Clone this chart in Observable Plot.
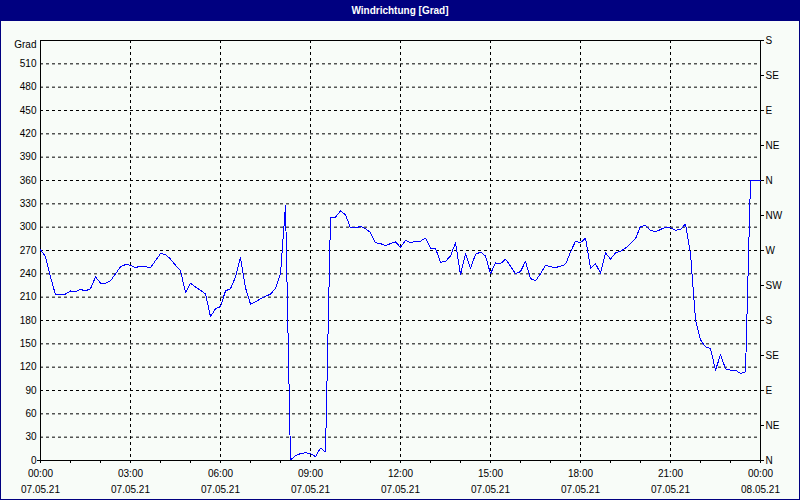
<!DOCTYPE html>
<html><head><meta charset="utf-8">
<script src="https://cdn.jsdelivr.net/npm/d3@7"></script>
<script src="https://cdn.jsdelivr.net/npm/@observablehq/plot@0.6"></script>
<style>
html,body{margin:0;padding:0;background:#f8fcf8;}
#frame{width:800px;height:500px;box-sizing:border-box;border:1px solid #000080;border-top:none;background:#f8fcf8;font-family:"Liberation Sans",Arial,sans-serif;overflow:hidden;}
#title{height:21px;margin:0 -1px;background:#000080;color:#fff;font-weight:bold;font-size:10px;line-height:21px;text-align:center;}
#chart svg{display:block;}
</style></head><body>
<div id="frame"><div id="title"></div><div id="chart"></div></div>
<script>
const chartTitle = "Windrichtung [Grad]";
const yUnit = "Grad";
const day = [2021, 4, 7]; // 07.05.21

const times = [
"00:00","00:10","00:20","00:30","00:40","00:50",
"01:00","01:10","01:20","01:30","01:40","01:50",
"02:00","02:10","02:20","02:30","02:40","02:50",
"03:00","03:10","03:20","03:30","03:40","03:50",
"04:00","04:10","04:20","04:30","04:40","04:50",
"05:00","05:10","05:20","05:30","05:40","05:50",
"06:00","06:10","06:20","06:30","06:40","06:50",
"07:00","07:10","07:20","07:30","07:40","07:50",
"08:00","08:10","08:20","08:30","08:40","08:50",
"09:00","09:10","09:20","09:30","09:40","09:50",
"10:00","10:10","10:20","10:30","10:40","10:50",
"11:00","11:10","11:20","11:30","11:40","11:50",
"12:00","12:10","12:20","12:30","12:40","12:50",
"13:00","13:10","13:20","13:30","13:40","13:50",
"14:00","14:10","14:20","14:30","14:40","14:50",
"15:00","15:10","15:20","15:30","15:40","15:50",
"16:00","16:10","16:20","16:30","16:40","16:50",
"17:00","17:10","17:20","17:30","17:40","17:50",
"18:00","18:10","18:20","18:30","18:40","18:50",
"19:00","19:10","19:20","19:30","19:40","19:50",
"20:00","20:10","20:20","20:30","20:40","20:50",
"21:00","21:10","21:20","21:30","21:40","21:50",
"22:00","22:10","22:20","22:30","22:40","22:50",
"23:00","23:10","23:20","23:30","23:40","23:50",
"24:00"];

const direction = [
271,262,236,213,214,214,
218,217,220,218,221,236,
228,228,231,240,249,252,
251,248,250,249,248,257,
266,265,259,251,244,216,
228,223,219,214,185,195,
198,218,221,236,261,222,
201,204,208,211,214,221,
240,328,1,6,9,10,
9,5,16,11,313,313,
321,316,299,299,301,298,
293,280,279,276,279,281,
274,283,280,282,282,286,
273,273,255,256,263,280,
239,266,247,265,268,263,
240,254,253,259,250,240,
243,256,234,231,240,251,
249,248,250,252,268,282,
280,286,247,253,241,267,
259,267,269,273,279,285,
301,302,296,294,297,300,
299,296,297,304,266,181,
155,146,144,116,136,118,
116,116,112,114,360,360,
360];

const degreeTicks = [0,30,60,90,120,150,180,210,240,270,300,330,360,390,420,450,480,510];
const unitTick = [540];
const compassTicks = [0,45,90,135,180,225,270,315,360,405,450,495,540];
const compassLabels = ["N","NE","E","SE","S","SW","W","NW","N","NE","E","SE","S"];
const labelHours = ["00:00","03:00","06:00","09:00","12:00","15:00","18:00","21:00","24:00"];

document.getElementById("title").textContent = chartTitle;

const toDate = t => { const [h, m] = t.split(":").map(Number); return new Date(Date.UTC(day[0], day[1], day[2], h, m)); };
const data = times.map((t, i) => ({date: toDate(t), value: direction[i]}));
const start = toDate(times[0]), end = toDate(times[times.length - 1]);
const labelTicks = labelHours.map(toDate);
const hourTicks = d3.utcHour.every(1).range(start, new Date(+end + 1));
const fmtTime = d3.utcFormat("%H:%M");
const fmtDate = d3.utcFormat("%d.%m.%y");

const chart = Plot.plot({
  width: 798, height: 478,
  marginLeft: 39, marginRight: 39, marginTop: 19, marginBottom: 39,
  style: {background: "transparent", fontFamily: "'Liberation Sans', Arial, sans-serif", fontSize: "10px", color: "black"},
  x: {type: "utc", domain: [start, end], label: null},
  y: {domain: [0, 540], label: null},
  marks: [
    Plot.gridY(degreeTicks.slice(1), {stroke: "black", strokeOpacity: 1, strokeDasharray: "3,3"}),
    Plot.gridY([540], {stroke: "black", strokeOpacity: 1}),
    Plot.gridX(labelTicks.slice(1, -1), {stroke: "black", strokeOpacity: 1, strokeDasharray: "3,3"}),
    Plot.frame({stroke: "black"}),
    Plot.axisY(degreeTicks, {anchor: "left", tickSize: 0, tickPadding: 4, tickFormat: d => String(d)}),
    Plot.axisY([0], {anchor: "left", tickSize: 3, tickFormat: () => ""}),
    Plot.axisY(unitTick, {anchor: "left", tickSize: 0, tickPadding: 4, dy: 4, tickFormat: () => yUnit}),
    Plot.axisY(compassTicks, {anchor: "right", tickSize: 3, tickPadding: 2, tickFormat: d => compassLabels[compassTicks.indexOf(d)]}),
    Plot.axisX(hourTicks, {anchor: "bottom", tickSize: 3, tickFormat: () => ""}),
    Plot.axisX(labelTicks, {anchor: "bottom", tickSize: 0, tickPadding: 9, tickFormat: fmtTime}),
    Plot.axisX(labelTicks, {anchor: "bottom", tickSize: 0, tickPadding: 25, tickFormat: fmtDate}),
    Plot.line(data, {x: "date", y: "value", stroke: "#0000ff", strokeWidth: 1, shapeRendering: "crispEdges"})
  ]
});
document.getElementById("chart").appendChild(chart);
</script>
</body></html>
